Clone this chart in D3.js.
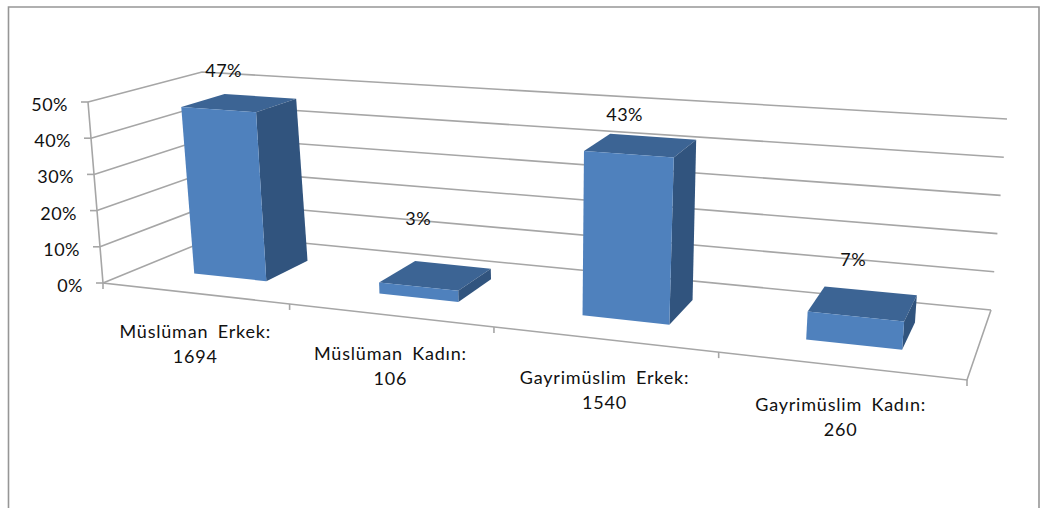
<!DOCTYPE html>
<html>
<head>
<meta charset="utf-8">
<script src="https://cdn.jsdelivr.net/npm/d3@7"></script>
<style>
    html, body { margin: 0; padding: 0; background: #fff; overflow: hidden; }
    text { font-family: Lato, "Open Sans", sans-serif; font-size: 18px; fill: #111; }
    .cat-label { letter-spacing: 0.8px; word-spacing: 4px; }
    .percent-label, .value-label { letter-spacing: 0.5px; }
</style>
</head>
<body>
<div id="chart"></div>
<script>
// data
var categories = ['Müslüman Erkek:', 'Müslüman Kadın:', 'Gayrimüslim Erkek:', 'Gayrimüslim Kadın:'];
var counts = [1694, 106, 1540, 260];
var percents = [47, 3, 43, 7];
var valueTicks = [0, 10, 20, 30, 40, 50];

var width = 1040, height = 508;

var svg = d3.select('#chart').append('svg')
    .attr('width', width)
    .attr('height', height);

// frame of the chart area
svg.append('path')
    .attr('d', 'M8.5,' + height + 'V7H1039V' + height)
    .attr('fill', 'none')
    .attr('stroke', '#969696')
    .attr('stroke-width', 1.6);

// corners of the 3D box on the page: [bottom, top], front and back of the left and right side
var box = {
    frontLeft: [[103, 283], [88, 102]],
    backLeft: [[220, 235], [202, 72]],
    frontRight: [[967, 380], [985, 168]],
    backRight: [[991, 310], [1007, 119]]
};

// scales inside the box, all of them go 0 to 1
var x = d3.scaleBand().domain(categories).range([0, 1]);
var y = d3.scaleLinear().domain([0, 50]).range([0, 1]);
var depth = d3.scaleLinear().domain([0, 1]).range([0, 1]);

// the right side is closer to the viewer, so categories get wider going right
var persp = 1.21;
function warp(u) { return u / (u + persp * (1 - u)); }

function mix(a, b, t) {
    return [a[0] + (b[0] - a[0]) * t, a[1] + (b[1] - a[1]) * t];
}

// u across the categories, z into the page, v up
function project(u, z, v) {
    var t = warp(u);
    var bottom = mix(mix(box.frontLeft[0], box.frontRight[0], t), mix(box.backLeft[0], box.backRight[0], t), z);
    var top = mix(mix(box.frontLeft[1], box.frontRight[1], t), mix(box.backLeft[1], box.backRight[1], t), z);
    return mix(bottom, top, v);
}

var line = d3.line();
var gridColor = '#a6a6a6';

function drawLine(cls, pts) {
    svg.append('path')
        .attr('class', cls)
        .attr('d', line(pts))
        .attr('fill', 'none')
        .attr('stroke', gridColor)
        .attr('stroke-width', 1.6);
}

// gridlines on the side wall and back wall
valueTicks.forEach(function(d) {
    var v = y(d);
    drawLine('grid', [project(0, 0, v), project(0, 1, v), project(1, 1, v)]);
});

// value axis, floor edges
drawLine('axis', [project(0, 0, 1), project(0, 0, 0), project(1, 0, 0), project(1, 1, 0)]);

// tick marks
valueTicks.forEach(function(d) {
    var p = project(0, 0, y(d));
    drawLine('tick', [[p[0] - 7, p[1]], p]);
});
d3.range(0, categories.length + 1).forEach(function(i) {
    var p = project(i / categories.length, 0, 0);
    drawLine('tick', [p, [p[0], p[1] + 6]]);
});

// value labels
svg.selectAll('.value-label')
    .data(valueTicks)
    .enter()
    .append('text')
    .attr('class', 'value-label')
    .attr('text-anchor', 'end')
    .attr('x', function(d) { return project(0, 0, y(d))[0] - 20; })
    .attr('y', function(d) { return project(0, 0, y(d))[1] + 9; })
    .text(function(d) { return d + '%'; });

// bars
var barShare = 0.4;       // part of the band that the bar takes
var barShift = 0.002;     // bars sit a little right of the band centre
var zFront = depth(0.32), zBack = depth(0.72);

var bars = svg.selectAll('.bar')
    .data(categories)
    .enter()
    .append('g')
    .attr('class', 'bar');

function barFace(fn, color) {
    bars.append('path')
        .attr('d', function(d, i) {
            var mid = x(d) + x.bandwidth() / 2 + barShift;
            var u0 = mid - x.bandwidth() * barShare / 2;
            var u1 = mid + x.bandwidth() * barShare / 2;
            return line(fn(u0, u1, y(percents[i]))) + 'Z';
        })
        .attr('fill', color);
}

// top
barFace(function(u0, u1, v) {
    return [project(u0, zFront, v), project(u1, zFront, v), project(u1, zBack, v), project(u0, zBack, v)];
}, '#3c6494');
// right side
barFace(function(u0, u1, v) {
    return [project(u1, zFront, 0), project(u1, zBack, 0), project(u1, zBack, v), project(u1, zFront, v)];
}, '#31547e');
// front
barFace(function(u0, u1, v) {
    return [project(u0, zFront, 0), project(u1, zFront, 0), project(u1, zFront, v), project(u0, zFront, v)];
}, '#4f81bd');

// percent labels sit above the bars, each one placed by hand like in the original
var labelNudge = [[-12, -26], [-14, -52], [-13, -25], [-7, -39]];
svg.selectAll('.percent-label')
    .data(categories)
    .enter()
    .append('text')
    .attr('class', 'percent-label')
    .attr('text-anchor', 'middle')
    .attr('x', function(d, i) {
        return project(x(d) + x.bandwidth() / 2, 0.5, y(percents[i]))[0] + labelNudge[i][0];
    })
    .attr('y', function(d, i) {
        return project(x(d) + x.bandwidth() / 2, 0.5, y(percents[i]))[1] + labelNudge[i][1];
    })
    .text(function(d, i) { return percents[i] + '%'; });

// category labels, two lines each
var catLabels = svg.selectAll('.cat-label')
    .data(categories)
    .enter()
    .append('text')
    .attr('class', 'cat-label')
    .attr('text-anchor', 'middle');

catLabels.append('tspan')
    .attr('x', function(d) { return project(x(d) + x.bandwidth() / 2, 0, 0)[0] + 1; })
    .attr('y', function(d) { return project(x(d) + x.bandwidth() / 2, 0, 0)[1] + 45; })
    .text(function(d) { return d; });

catLabels.append('tspan')
    .attr('x', function(d) { return project(x(d) + x.bandwidth() / 2, 0, 0)[0] + 1; })
    .attr('y', function(d) { return project(x(d) + x.bandwidth() / 2, 0, 0)[1] + 70; })
    .text(function(d, i) { return counts[i]; });
</script>
</body>
</html>
